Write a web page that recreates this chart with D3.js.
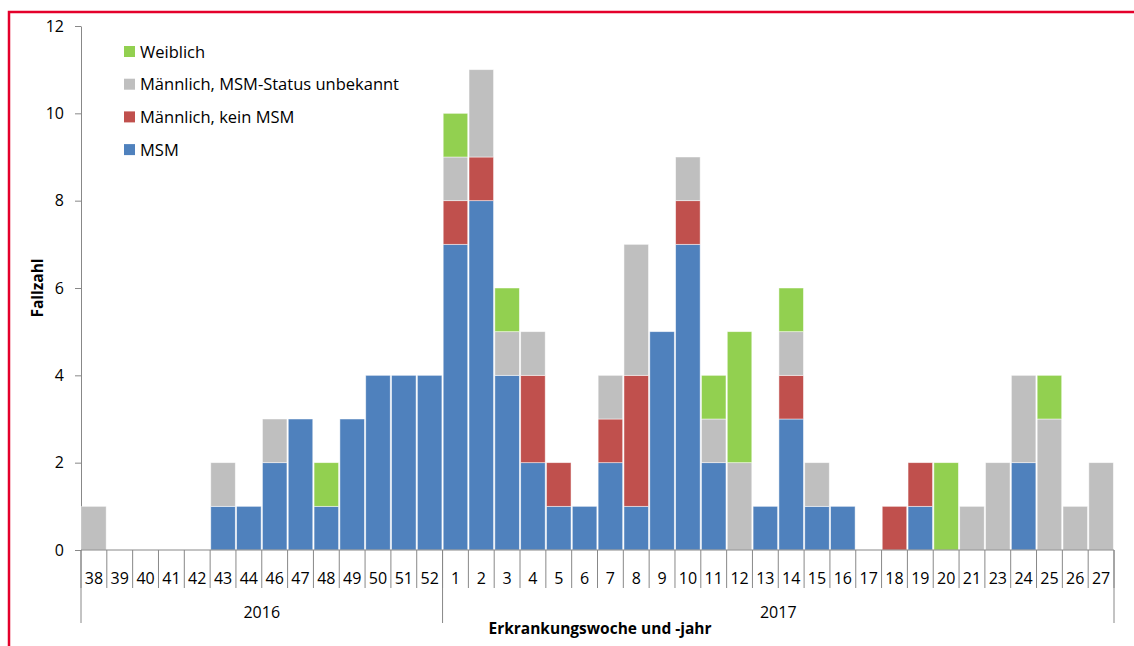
<!DOCTYPE html>
<html>
<head>
<meta charset="utf-8">
<script src="https://cdn.jsdelivr.net/npm/d3@7"></script>
<style>
  body { margin: 0; background: #fff; }
  text { font-family: "Open Sans", Lato, sans-serif; fill: #000; }
</style>
</head>
<body>
<div id="chart"></div>
<script>
// weeks and their year
var weeks = ["38","39","40","41","42","43","44","46","47","48","49","50","51","52",
             "1","2","3","4","5","6","7","8","9","10","11","12","13","14","15","16","17","18","19","20","21","23","24","25","26","27"];
var years = ["2016","2016","2016","2016","2016","2016","2016","2016","2016","2016","2016","2016","2016","2016",
             "2017","2017","2017","2017","2017","2017","2017","2017","2017","2017","2017","2017","2017","2017","2017","2017","2017","2017","2017","2017","2017","2017","2017","2017","2017","2017"];

// case counts per group (bottom to top of stack)
var msm       = [0,0,0,0,0,1,1,2,3,1,3,4,4,4, 7,8,4,2,1,1,2,1,5,7,2,0,1,3,1,1,0,0,1,0,0,0,2,0,0,0];
var keinMsm   = [0,0,0,0,0,0,0,0,0,0,0,0,0,0, 1,1,0,2,1,0,1,3,0,1,0,0,0,1,0,0,0,1,1,0,0,0,0,0,0,0];
var unbekannt = [1,0,0,0,0,1,0,1,0,0,0,0,0,0, 1,2,1,1,0,0,1,3,0,1,1,2,0,1,1,0,0,0,0,0,1,2,2,3,1,2];
var weiblich  = [0,0,0,0,0,0,0,0,0,1,0,0,0,0, 1,0,1,0,0,0,0,0,0,0,1,3,0,1,0,0,0,0,0,2,0,0,0,1,0,0];

var seriesNames = ["MSM", "Männlich, kein MSM", "Männlich, MSM-Status unbekannt", "Weiblich"];
var colors = ["#4f81bd", "#c0504d", "#bfbfbf", "#92d050"];
var yTicks = [0, 2, 4, 6, 8, 10, 12];

var W = 1134, H = 646;
var margin = {top: 26, right: 20, bottom: 96, left: 81};
var width = 1114 - margin.left, height = 550 - margin.top;

var svg = d3.select("#chart").append("svg")
  .attr("width", W).attr("height", H);

// red frame
svg.append("rect")
  .attr("x", 9).attr("y", 12)
  .attr("width", W + 20).attr("height", H + 20)
  .attr("fill", "none").attr("stroke", "#e4002b").attr("stroke-width", 2.5);

var g = svg.append("g")
  .attr("transform", "translate(" + margin.left + "," + margin.top + ")");

var keys = weeks.map(function(w, i) { return i; });
var x = d3.scaleBand().domain(keys).range([0, width]).paddingInner(0.05).paddingOuter(0.025);
var y = d3.scaleLinear().domain([0, 12]).range([height, 0]);

var table = keys.map(function(i) {
  return {i: i, s0: msm[i], s1: keinMsm[i], s2: unbekannt[i], s3: weiblich[i]};
});
var stack = d3.stack().keys(["s0", "s1", "s2", "s3"])(table);

// y axis
var yAxis = g.append("g")
  .call(d3.axisLeft(y).tickValues(yTicks).tickSize(6).tickPadding(11).tickSizeOuter(0));
yAxis.select(".domain").attr("stroke", "#888");
yAxis.selectAll(".tick line").attr("stroke", "#888");
yAxis.selectAll(".tick text").style("font-size", "16px");

// bars
g.selectAll(".layer")
  .data(stack)
  .enter().append("g")
    .attr("fill", function(d, k) { return colors[k]; })
  .selectAll("rect")
  .data(function(d) { return d.filter(function(e) { return e[1] > e[0]; }); })
  .enter().append("rect")
    .attr("x", function(d) { return x(d.data.i); })
    .attr("width", x.bandwidth())
    .attr("y", function(d) { return y(d[1]); })
    .attr("height", function(d) { return y(d[0]) - y(d[1]); })
    .attr("stroke", "#fff").attr("stroke-opacity", 0.6).attr("stroke-width", 0.8);

// x axis line
g.append("line").attr("x1", 0).attr("x2", width).attr("y1", height).attr("y2", height)
  .attr("stroke", "#888");

// category separators
var sepX = d3.range(weeks.length + 1).map(function(k) { return k * width / weeks.length; });
g.selectAll(".sep")
  .data(sepX)
  .enter().append("line")
    .attr("x1", function(d) { return d; }).attr("x2", function(d) { return d; })
    .attr("y1", height).attr("y2", height + 38)
    .attr("stroke", "#888");

// week labels
g.selectAll(".wk")
  .data(weeks)
  .enter().append("text")
    .attr("x", function(d, i) { return (i + 0.5) * width / weeks.length; })
    .attr("y", height + 34)
    .attr("text-anchor", "middle")
    .style("font-size", "16px")
    .text(function(d) { return d; });

// year groups
var yearNames = Array.from(new Set(years));
var groups = yearNames.map(function(yr) {
  var first = years.indexOf(yr), last = years.lastIndexOf(yr);
  return {yr: yr, a: first * width / weeks.length, b: (last + 1) * width / weeks.length};
});
g.selectAll(".ysep")
  .data([0].concat(groups.map(function(d) { return d.b; })))
  .enter().append("line")
    .attr("x1", function(d) { return d; }).attr("x2", function(d) { return d; })
    .attr("y1", height).attr("y2", height + 73)
    .attr("stroke", "#888");
g.selectAll(".yr")
  .data(groups)
  .enter().append("text")
    .attr("x", function(d) { return (d.a + d.b) / 2; })
    .attr("y", height + 68)
    .attr("text-anchor", "middle")
    .style("font-size", "16px")
    .text(function(d) { return d.yr; });

// axis titles
svg.append("text")
  .attr("x", 600).attr("y", 634)
  .attr("text-anchor", "middle")
  .style("font-size", "15.5px").style("font-weight", "bold")
  .text("Erkrankungswoche und -jahr");
svg.append("text")
  .attr("transform", "translate(43,288) rotate(-90)")
  .attr("text-anchor", "middle")
  .style("font-size", "15.5px").style("font-weight", "bold")
  .text("Fallzahl");

// legend (top-down: Weiblich first)
var legendOrder = [3, 2, 1, 0];
var leg = svg.selectAll(".leg")
  .data(legendOrder)
  .enter().append("g")
    .attr("transform", function(d, k) { return "translate(124," + (46 + k * 32.7) + ")"; });
leg.append("rect").attr("width", 11).attr("height", 11)
  .attr("fill", function(d) { return colors[d]; });
leg.append("text").attr("x", 16).attr("y", 11.5)
  .style("font-size", "16.5px")
  .text(function(d) { return seriesNames[d]; });
</script>
</body>
</html>
